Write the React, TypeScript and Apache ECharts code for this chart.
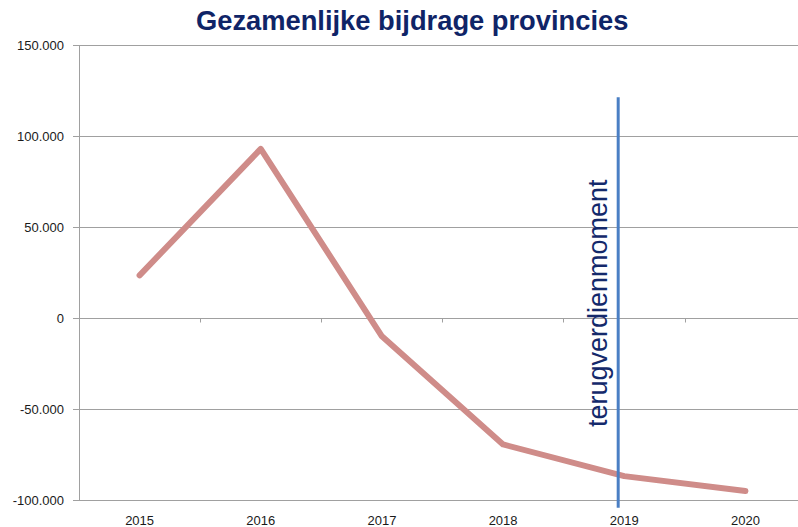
import React, { useEffect, useRef } from "react";
import * as echarts from "echarts";

const titleText = "Gezamenlijke bijdrage provincies";
const years = ["2015", "2016", "2017", "2018", "2019", "2020"];
const contributions = [23700, 93200, -9800, -69200, -86600, -94800];
const yTicks = { min: -100000, max: 150000, interval: 50000 };
const markerLabel = "terugverdienmoment";
const markerFrom = "2018";
const markerTo = "2019";
const markerFraction = 0.95; // marker sits just before the 2019 category centre
const markerTopValue = 121500;
const markerBottomValue = -104000;
const markerLabelValue = 8400;

const fmt = (v: number) => {
  const s = Math.abs(v).toString().replace(/\B(?=(\d{3})+(?!\d))/g, ".");
  return (v < 0 ? "-" : "") + s;
};

export default function App() {
  const ref = useRef<HTMLDivElement>(null);
  useEffect(() => {
    if (!ref.current) return;
    const chart = echarts.init(ref.current, null, { renderer: "svg" });
    const font = "'Liberation Sans', Arial, sans-serif";
    chart.setOption({
      animation: false,
      backgroundColor: "#ffffff",
      title: {
        text: titleText,
        left: 196,
        top: 7,
        padding: 0,
        textStyle: { fontFamily: font, fontSize: 27.3, fontWeight: "bold", color: "#0f2467" },
      },
      grid: { left: 79, top: 45.5, width: 727, height: 455, containLabel: false, outerBoundsMode: "none" },
      xAxis: [
        {
          type: "category",
          data: years,
          position: "bottom",
          axisLine: { onZero: false, lineStyle: { color: "#a0a0a0", width: 1 } },
          axisTick: { show: false },
          axisLabel: { fontFamily: font, fontSize: 13, color: "#1a1a1a", margin: 13 },
          splitLine: { show: false },
        },
        {
          type: "category",
          data: years,
          position: "bottom",
          axisLine: { onZero: true, lineStyle: { color: "#a0a0a0", width: 1 } },
          axisTick: { show: true, length: 4, lineStyle: { color: "#a0a0a0" } },
          axisLabel: { show: false },
          splitLine: { show: false },
        },
      ],
      yAxis: {
        type: "value",
        min: yTicks.min,
        max: yTicks.max,
        interval: yTicks.interval,
        axisLine: { show: true, lineStyle: { color: "#a0a0a0", width: 1 } },
        axisTick: { show: true, length: 6, lineStyle: { color: "#a0a0a0" } },
        axisLabel: { fontFamily: font, fontSize: 13, color: "#1a1a1a", margin: 15, formatter: (v: number) => fmt(v) },
        splitLine: { show: true, lineStyle: { color: "#a0a0a0", width: 1 } },
      },
      series: [
        {
          type: "line",
          data: contributions,
          xAxisIndex: 0,
          symbol: "none",
          lineStyle: { color: "#cf8c89", width: 6, cap: "round", join: "round" },
        },
      ],
    });
    const px = (cat: string, v: number) =>
      chart.convertToPixel({ xAxisIndex: 0, yAxisIndex: 0 }, [cat, v]) as number[];
    const [xa, ly1] = px(markerFrom, markerTopValue);
    const [xb, ly2] = px(markerTo, markerBottomValue);
    const [, ty] = px(markerTo, markerLabelValue);
    const lx = xa + (xb - xa) * markerFraction;
    chart.setOption({
      graphic: [
        {
          type: "line",
          shape: { x1: lx, y1: ly1, x2: lx, y2: ly2 },
          style: { stroke: "#4a7fc4", lineWidth: 3 },
          z: 10,
        },
        {
          type: "text",
          x: lx - 20,
          y: ty,
          rotation: Math.PI / 2,
          style: {
            text: markerLabel,
            fontFamily: font,
            fontSize: 27,
            fill: "#14296b",
            align: "center",
            verticalAlign: "middle",
          },
          z: 11,
        },
      ],
    });
    return () => chart.dispose();
  }, []);
  return <div ref={ref} style={{ position: "fixed", left: 0, top: 0, width: 798, height: 527 }} />;
}
